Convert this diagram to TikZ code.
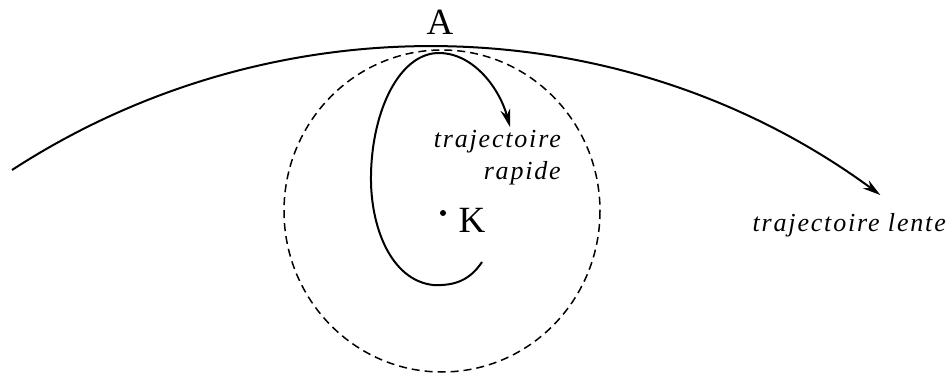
\documentclass[tikz,border=0pt]{standalone}
\usepackage{fontspec}
\setmainfont{Liberation Serif}
\newfontfamily\lblfont[LetterSpace=7]{Liberation Serif Italic}
\usetikzlibrary{arrows.meta}
\tikzset{
  traj/.style={line width=2pt},
  tip/.style={-{Stealth[length=18pt,width=10pt]}},
  guide/.style={line width=1.5pt, dash pattern=on 8pt off 5pt},
  bigtxt/.style={font=\fontsize{37}{39}\selectfont, inner sep=0pt, anchor=base},
  lbl/.style={font=\fontsize{26}{28}\lblfont, inner sep=0pt, anchor=base east},
}
\begin{document}
\begin{tikzpicture}[x=1pt,y=-1pt]
\useasboundingbox (0,0) rectangle (951,374);
% dashed circle
\draw[guide] (442,211) ellipse[x radius=158, y radius=161];
% slow trajectory
\draw[traj,tip] (12,170) arc[start angle=-123, end angle=-53.7, radius=764];
% fast trajectory
\draw[traj,tip] (482,262) .. controls (470,280) and (455,286) .. (433,285)
  .. controls (390,280) and (370,225) .. (371,175)
  .. controls (372,110) and (400,52) .. (440,53)
  .. controls (475,54) and (500,90) .. (510,127);
% K point
\fill (443,213) circle[radius=3];
\node[bigtxt] (A) at (440,35) {A};
\node[bigtxt] (K) at (472,233) {K};
\node[lbl] (tr1) at (561,148) {trajectoire};
\node[lbl] (tr2) at (561,180) {rapide};
\node[lbl] (tl) at (946,232) {trajectoire lente};
\end{tikzpicture}
\end{document}
